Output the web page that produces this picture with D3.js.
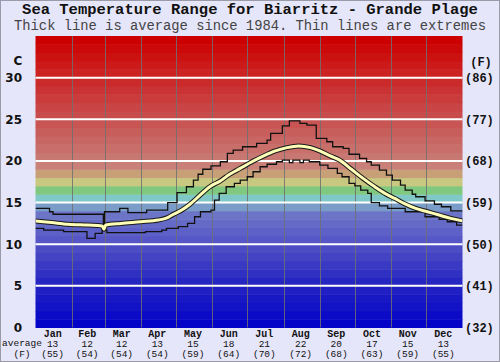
<!DOCTYPE html>
<html>
<head>
<meta charset="utf-8">
<script src="https://cdn.jsdelivr.net/npm/d3@7"></script>
<style>
  html, body { margin: 0; padding: 0; background: #e6e6fa; }
  svg { display: block; }
</style>
</head>
<body>
<div id="chart"></div>
<script>
const months = ['Jan','Feb','Mar','Apr','May','Jun','Jul','Aug','Sep','Oct','Nov','Dec'];
const monthStart = [0,31,59,90,120,151,181,212,243,273,304,334,365];
const avgC = [13,12,12,13,15,18,21,22,20,17,15,13];
const avgF = [55,54,54,54,59,64,70,72,68,63,59,55];
const cTicks = [0,5,10,15,20,25,30];
const fTicks = ['(32)','(41)','(50)','(59)','(68)','(77)','(86)'];

// extremes, read as steps: day of year -> deg C
const maxDays  = [0,12,15,58,59,72,79,95,113,121,129,135,139,143,150,158,164,169,177,189,198,201,211,217,226,232,240,249,254,263,268,277,283,287,294,300,305,312,316,322,325,333,341,347,355,365];
const maxTemps = [14.3,13.9,13.6,12.0,13.9,14.3,13.8,14.1,15.0,16.2,16.9,17.7,18.4,19.0,19.4,19.9,20.9,21.3,21.7,22.1,22.5,23.3,24.2,24.8,24.5,24.3,22.7,22.3,21.7,21.5,20.8,20.3,19.9,19.5,18.9,18.3,17.7,17.1,16.5,16.0,15.7,15.2,14.8,14.5,14.0,14.0];
const minDays  = [0,7,24,44,51,57,61,94,108,112,122,130,136,141,150,153,157,163,170,175,181,186,192,198,206,211,217,220,226,229,234,243,250,258,262,268,273,278,284,287,294,301,316,333,345,352,360,365];
const minTemps = [11.9,11.7,11.5,10.7,11.3,11.7,11.4,11.5,11.7,11.9,12.1,12.5,13.3,13.9,14.1,15.3,16.1,16.9,17.3,17.7,18.1,18.7,19.3,19.6,19.9,20.1,19.8,20.1,19.8,20.1,19.9,19.5,19.1,18.5,18.1,17.3,17.0,16.5,16.1,15.0,14.6,14.3,13.9,13.3,13.0,12.7,12.3,12.3];
// average since 1984
const avgDays  = [0,14,28,45,57,58.5,60,73,90,105,113,118,125,132,140,149,158,166,175,185,195,205,215,225,235,243,252,260,270,280,290,300,307,315,325,335,345,355,365];
const avgTemps = [12.8,12.6,12.4,12.3,12.2,11.8,12.3,12.5,12.7,12.9,13.2,13.6,14.1,14.8,15.8,16.9,17.6,18.4,19.1,19.9,20.6,21.2,21.6,21.8,21.6,21.2,20.6,20.1,19.0,17.9,16.9,16.0,15.5,14.9,14.3,13.9,13.5,13.1,12.8];

const W = 500, H = 362;
const plotL = 35.5, plotR = 462.5, plotT = 36, plotB = 327.5;

const svg = d3.select('#chart').append('svg')
  .attr('width', W).attr('height', H);

svg.append('rect').attr('x', 0.5).attr('y', 0.5).attr('width', W - 1).attr('height', H - 1)
  .attr('fill', '#e6e6fa').attr('stroke', '#9a9aa8');

const x = d3.scaleLinear().domain([0, 365]).range([plotL, plotR]);
const y = d3.scaleLinear().domain([0, 35]).range([plotB, plotT]);

// colour of the band starting at each degree
const bandColor = d3.scaleLinear()
  .domain([0, 5, 10, 13, 14, 15, 16, 17, 18, 19, 20, 25, 30, 34])
  .range(['#0404c8','#2626c2','#5656c6','#6c74c8','#7a9cc8','#80c8c8','#80c880','#c8c880','#c8a078','#c88078','#c87872','#c84c4c','#cc2222','#cc0000'])
  .interpolate(d3.interpolateRgb);

svg.append('g').selectAll('rect')
  .data(d3.range(0, 35))
  .join('rect')
  .attr('x', plotL)
  .attr('y', d => y(d + 1))
  .attr('width', plotR - plotL)
  .attr('height', d => y(d) - y(d + 1) + 0.5)
  .attr('fill', d => bandColor(d));

// month separators
svg.append('g').selectAll('line')
  .data(monthStart.slice(1, 12))
  .join('line')
  .attr('x1', d => Math.round(x(d)) + 0.5).attr('x2', d => Math.round(x(d)) + 0.5)
  .attr('y1', plotT).attr('y2', plotB)
  .attr('stroke', '#707070').attr('stroke-opacity', 0.85).attr('stroke-width', 1);

// white lines every 5 C
svg.append('g').selectAll('line')
  .data(cTicks.slice(1))
  .join('line')
  .attr('x1', plotL).attr('x2', plotR)
  .attr('y1', d => y(d)).attr('y2', d => y(d))
  .attr('stroke', '#ffffff').attr('stroke-width', 2);

svg.append('clipPath').attr('id', 'plot')
  .append('rect').attr('x', plotL).attr('y', plotT).attr('width', plotR - plotL).attr('height', plotB - plotT);

const stepLine = d3.line()
  .x(d => x(d[0])).y(d => y(d[1]))
  .curve(d3.curveStepAfter);
const smoothLine = d3.line()
  .x(d => x(d[0])).y(d => y(d[1]))
  .curve(d3.curveMonotoneX);

const lines = svg.append('g').attr('clip-path', 'url(#plot)');
lines.append('path')
  .datum(d3.zip(maxDays, maxTemps))
  .attr('fill', 'none').attr('stroke', '#111').attr('stroke-width', 1.3)
  .attr('d', stepLine);
lines.append('path')
  .datum(d3.zip(minDays, minTemps))
  .attr('fill', 'none').attr('stroke', '#111').attr('stroke-width', 1.3)
  .attr('d', stepLine);
const avgPts = d3.zip(avgDays, avgTemps);
lines.append('path')
  .datum(avgPts)
  .attr('fill', 'none').attr('stroke', '#1a1a1a').attr('stroke-width', 5)
  .attr('d', smoothLine);
lines.append('path')
  .datum(avgPts)
  .attr('fill', 'none').attr('stroke', '#ffffb8').attr('stroke-width', 3)
  .attr('d', smoothLine);

// titles
svg.append('text')
  .attr('x', W / 2).attr('y', 13.5)
  .attr('text-anchor', 'middle')
  .style('font', 'bold 15.5px "Liberation Mono", monospace')
  .attr('fill', '#111')
  .text('Sea Temperature Range for Biarritz - Grande Plage');
svg.append('text')
  .attr('x', W / 2).attr('y', 30)
  .attr('text-anchor', 'middle')
  .style('font', '13.8px "Liberation Mono", monospace')
  .attr('fill', '#444')
  .text('Thick line is average since 1984. Thin lines are extremes');

// left axis (C)
svg.append('g').selectAll('text')
  .data(cTicks)
  .join('text')
  .attr('x', 22).attr('y', d => y(d))
  .attr('dy', '0.36em')
  .attr('text-anchor', 'end')
  .style('font', 'bold 12px "DejaVu Sans", sans-serif')
  .attr('fill', '#111')
  .text(d => d);
svg.append('text')
  .attr('x', 18).attr('y', 61).attr('dy', '0.36em')
  .attr('text-anchor', 'middle')
  .style('font', 'bold 12px "DejaVu Sans", sans-serif')
  .attr('fill', '#111')
  .text('C');

// right axis (F)
svg.append('g').selectAll('text')
  .data(cTicks)
  .join('text')
  .attr('x', 465).attr('y', d => y(d))
  .attr('dy', '0.36em')
  .style('font', 'bold 12px "Liberation Mono", monospace')
  .attr('fill', '#111')
  .text((d, i) => fTicks[i]);
svg.append('text')
  .attr('x', 481).attr('y', 62).attr('dy', '0.36em')
  .attr('text-anchor', 'middle')
  .style('font', 'bold 12px "Liberation Mono", monospace')
  .attr('fill', '#111')
  .text('(F)');

// month labels and monthly averages
const mid = months.map((m, i) => (monthStart[i] + monthStart[i + 1]) / 2);
const bottomG = svg.append('g');
bottomG.selectAll('text.m')
  .data(months)
  .join('text').attr('class', 'm')
  .attr('x', (d, i) => x(mid[i]) - 1).attr('y', 337)
  .attr('text-anchor', 'middle')
  .style('font', 'bold 10px "Liberation Mono", monospace')
  .attr('fill', '#111')
  .text(d => d);
bottomG.selectAll('text.c')
  .data(avgC)
  .join('text').attr('class', 'c')
  .attr('x', (d, i) => x(mid[i]) - 1).attr('y', 346.5)
  .attr('text-anchor', 'middle')
  .style('font', '9.5px "Liberation Mono", monospace')
  .attr('fill', '#111')
  .text(d => d);
bottomG.selectAll('text.f')
  .data(avgF)
  .join('text').attr('class', 'f')
  .attr('x', (d, i) => x(mid[i]) - 1).attr('y', 356.5)
  .attr('text-anchor', 'middle')
  .style('font', '9.5px "Liberation Mono", monospace')
  .attr('fill', '#111')
  .text(d => '(' + d + ')');
svg.append('text')
  .attr('x', 22).attr('y', 345.5).attr('text-anchor', 'middle')
  .style('font', '9.5px "Liberation Mono", monospace')
  .attr('fill', '#111')
  .text('average');
svg.append('text')
  .attr('x', 22).attr('y', 356.5).attr('text-anchor', 'middle')
  .style('font', '9.5px "Liberation Mono", monospace')
  .attr('fill', '#111')
  .text('(F)');
</script>
</body>
</html>
